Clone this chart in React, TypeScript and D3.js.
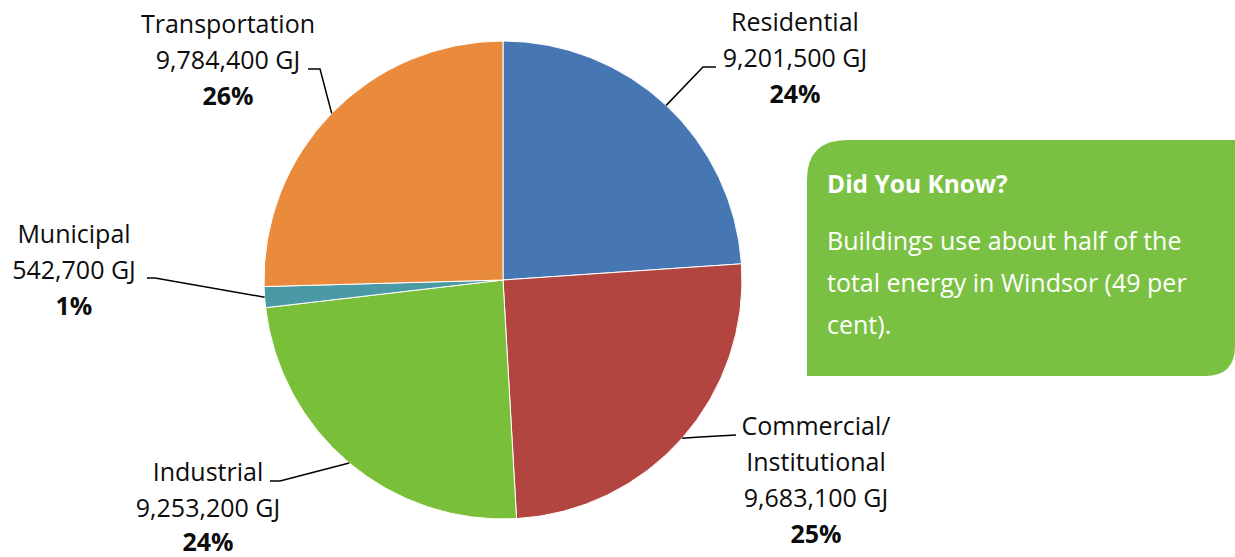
import React from "react";
import * as d3 from "d3";

const categories = ["Residential", "Commercial/Institutional", "Industrial", "Municipal", "Transportation"];
const energyGJ = [9201500, 9683100, 9253200, 542700, 9784400];
const percentLabels = ["24%", "25%", "24%", "1%", "26%"];
const labelLines = [
  ["Residential"],
  ["Commercial/", "Institutional"],
  ["Industrial"],
  ["Municipal"],
  ["Transportation"],
];
const sliceColors = ["#4677b3", "#b34541", "#79bf39", "#4a9aa6", "#ea8a3d"];

const boxTitle = "Did You Know?";
const boxLines = ["Buildings use about half of the", "total energy in Windsor (49 per", "cent)."];

// layout: label centre x, first baseline y, leader bend point [x,y], leader end at label [x,y]
const labelLayout = [
  { cx: 795, y: 31, bend: [703, 67], tail: [716, 67] },
  { cx: 816, y: 435, bend: [700, 437], tail: [736, 435] },
  { cx: 208, y: 481, bend: [280, 481], tail: [270, 481] },
  { cx: 74, y: 243, bend: [155, 278], tail: [147, 278] },
  { cx: 228, y: 33, bend: [320, 69], tail: [308, 69] },
];

const W = 1235;
const H = 557;
const CX = 503;
const CY = 280;
const R = 239;
const FONT = "'Open Sans', 'Noto Sans', sans-serif";
const LINE = 36;

export default function App() {
  const pie = d3.pie<number>().sort(null).value((d) => d);
  const arcs = pie(energyGJ);
  const arc = d3.arc<d3.PieArcDatum<number>>().innerRadius(0).outerRadius(R);
  const fmt = d3.format(",");

  return (
    <svg width={W} height={H} style={{ position: "absolute", left: 0, top: 0 }}>
      <rect width={W} height={H} fill="#ffffff" />
      <g transform={`translate(${CX},${CY})`}>
        {arcs.map((a, i) => (
          <path key={i} d={arc(a) || ""} fill={sliceColors[i]} stroke="#ffffff" strokeWidth={1} />
        ))}
      </g>
      {arcs.map((a, i) => {
        const mid = (a.startAngle + a.endAngle) / 2;
        const px = CX + R * Math.sin(mid);
        const py = CY - R * Math.cos(mid);
        const L = labelLayout[i];
        const lines = [...labelLines[i], `${fmt(energyGJ[i])} GJ`];
        return (
          <g key={i}>
            <polyline
              points={`${px},${py} ${L.bend[0]},${L.bend[1]} ${L.tail[0]},${L.tail[1]}`}
              fill="none"
              stroke="#000"
              strokeWidth={1.5}
            />
            <text textAnchor="middle" fontFamily={FONT} fontSize={25} fill="#0d0d0d">
              {lines.map((t, j) => (
                <tspan key={j} x={L.cx} y={L.y + j * LINE}>
                  {t}
                </tspan>
              ))}
              <tspan x={L.cx} y={Math.min(L.y + lines.length * LINE, 551)} fontWeight="bold">
                {percentLabels[i]}
              </tspan>
            </text>
          </g>
        );
      })}
      <path
        d={`M807,180 Q807,140 847,140 L1235,140 L1235,346 Q1235,376 1205,376 L807,376 Z`}
        fill="#7ac143"
      />
      <text fontFamily={FONT} fill="#ffffff">
        <tspan x={827} y={193} fontSize={24.5} fontWeight="bold">
          {boxTitle}
        </tspan>
        {boxLines.map((t, j) => (
          <tspan key={j} x={827} y={250 + j * 42} fontSize={25}>
            {t}
          </tspan>
        ))}
      </text>
    </svg>
  );
}
